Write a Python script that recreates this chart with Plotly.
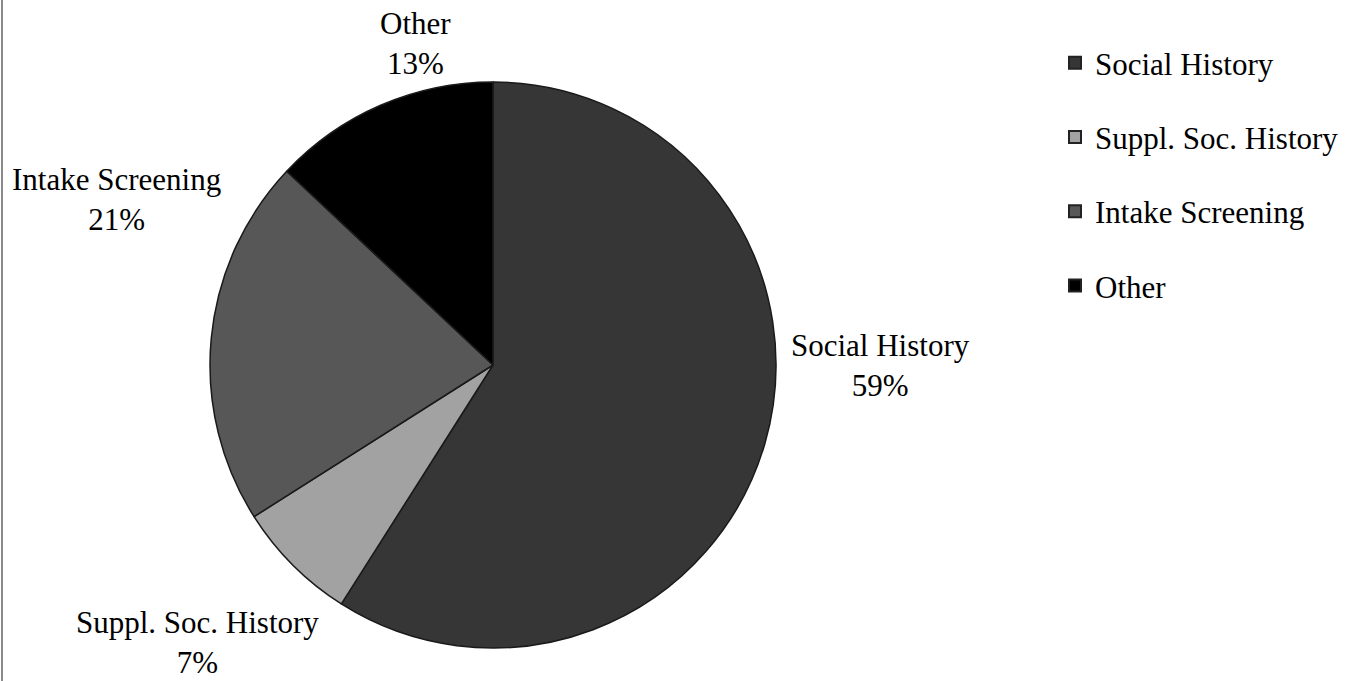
import plotly.graph_objects as go

# slice data, clockwise from 12 o'clock
labels = ["Social History", "Suppl. Soc. History", "Intake Screening", "Other"]
values = [59, 7, 21, 13]
colors = ["#363636", "#a2a2a2", "#575757", "#000000"]

# outside label positions in pixels: (x centre, y, vertical anchor)
label_pos = {
    "Social History": (880, 366, "middle"),
    "Suppl. Soc. History": (197, 681, "bottom"),
    "Intake Screening": (117, 199, "middle"),
    "Other": (415, 43, "middle"),
}

W, H = 1349, 681
font = dict(family="Liberation Serif, Times New Roman, serif", size=31, color="black")

fig = go.Figure()

fig.add_trace(go.Pie(
    labels=labels,
    values=values,
    sort=False,
    direction="clockwise",
    rotation=0,
    marker=dict(colors=colors, line=dict(color="#1a1a1a", width=1.5)),
    textinfo="none",
    hoverinfo="label+percent",
    showlegend=False,
    domain=dict(x=[210 / W, 776 / W], y=[(H - 648) / H, (H - 82) / H]),
))

# legend entries as separate traces so the vertical gap can be set
for lab, col in zip(labels, colors):
    fig.add_trace(go.Scatter(
        x=[None], y=[None], mode="markers", name=lab, legendgroup=lab,
        marker=dict(symbol="square", size=13, color=col, line=dict(color="#222", width=1)),
    ))

total = sum(values)
for lab, v in zip(labels, values):
    x, y, anchor = label_pos[lab]
    fig.add_annotation(
        x=x / W, y=1 - y / H, xref="paper", yref="paper",
        xanchor="center", yanchor=anchor, borderpad=0,
        text=f"{lab}<br>{round(100 * v / total)}%", showarrow=False, font=font,
    )

fig.update_layout(
    width=W, height=H,
    margin=dict(l=0, r=0, t=0, b=0),
    paper_bgcolor="white", plot_bgcolor="white",
    font=font,
    xaxis=dict(visible=False), yaxis=dict(visible=False),
    legend=dict(x=1055 / W, y=(H - 36) / H, xanchor="left", yanchor="top",
                tracegroupgap=31, font=font, itemsizing="constant"),
    shapes=[dict(type="line", xref="paper", yref="paper", x0=2 / W, x1=2 / W, y0=0, y1=1,
                 line=dict(color="#8a8a8a", width=2))],
)

# drop the browser's default 8px body margin so the figure sits at the page corner
fig.write_html("out.html", config={"displayModeBar": False},
               post_script="document.body.style.margin='0';")
